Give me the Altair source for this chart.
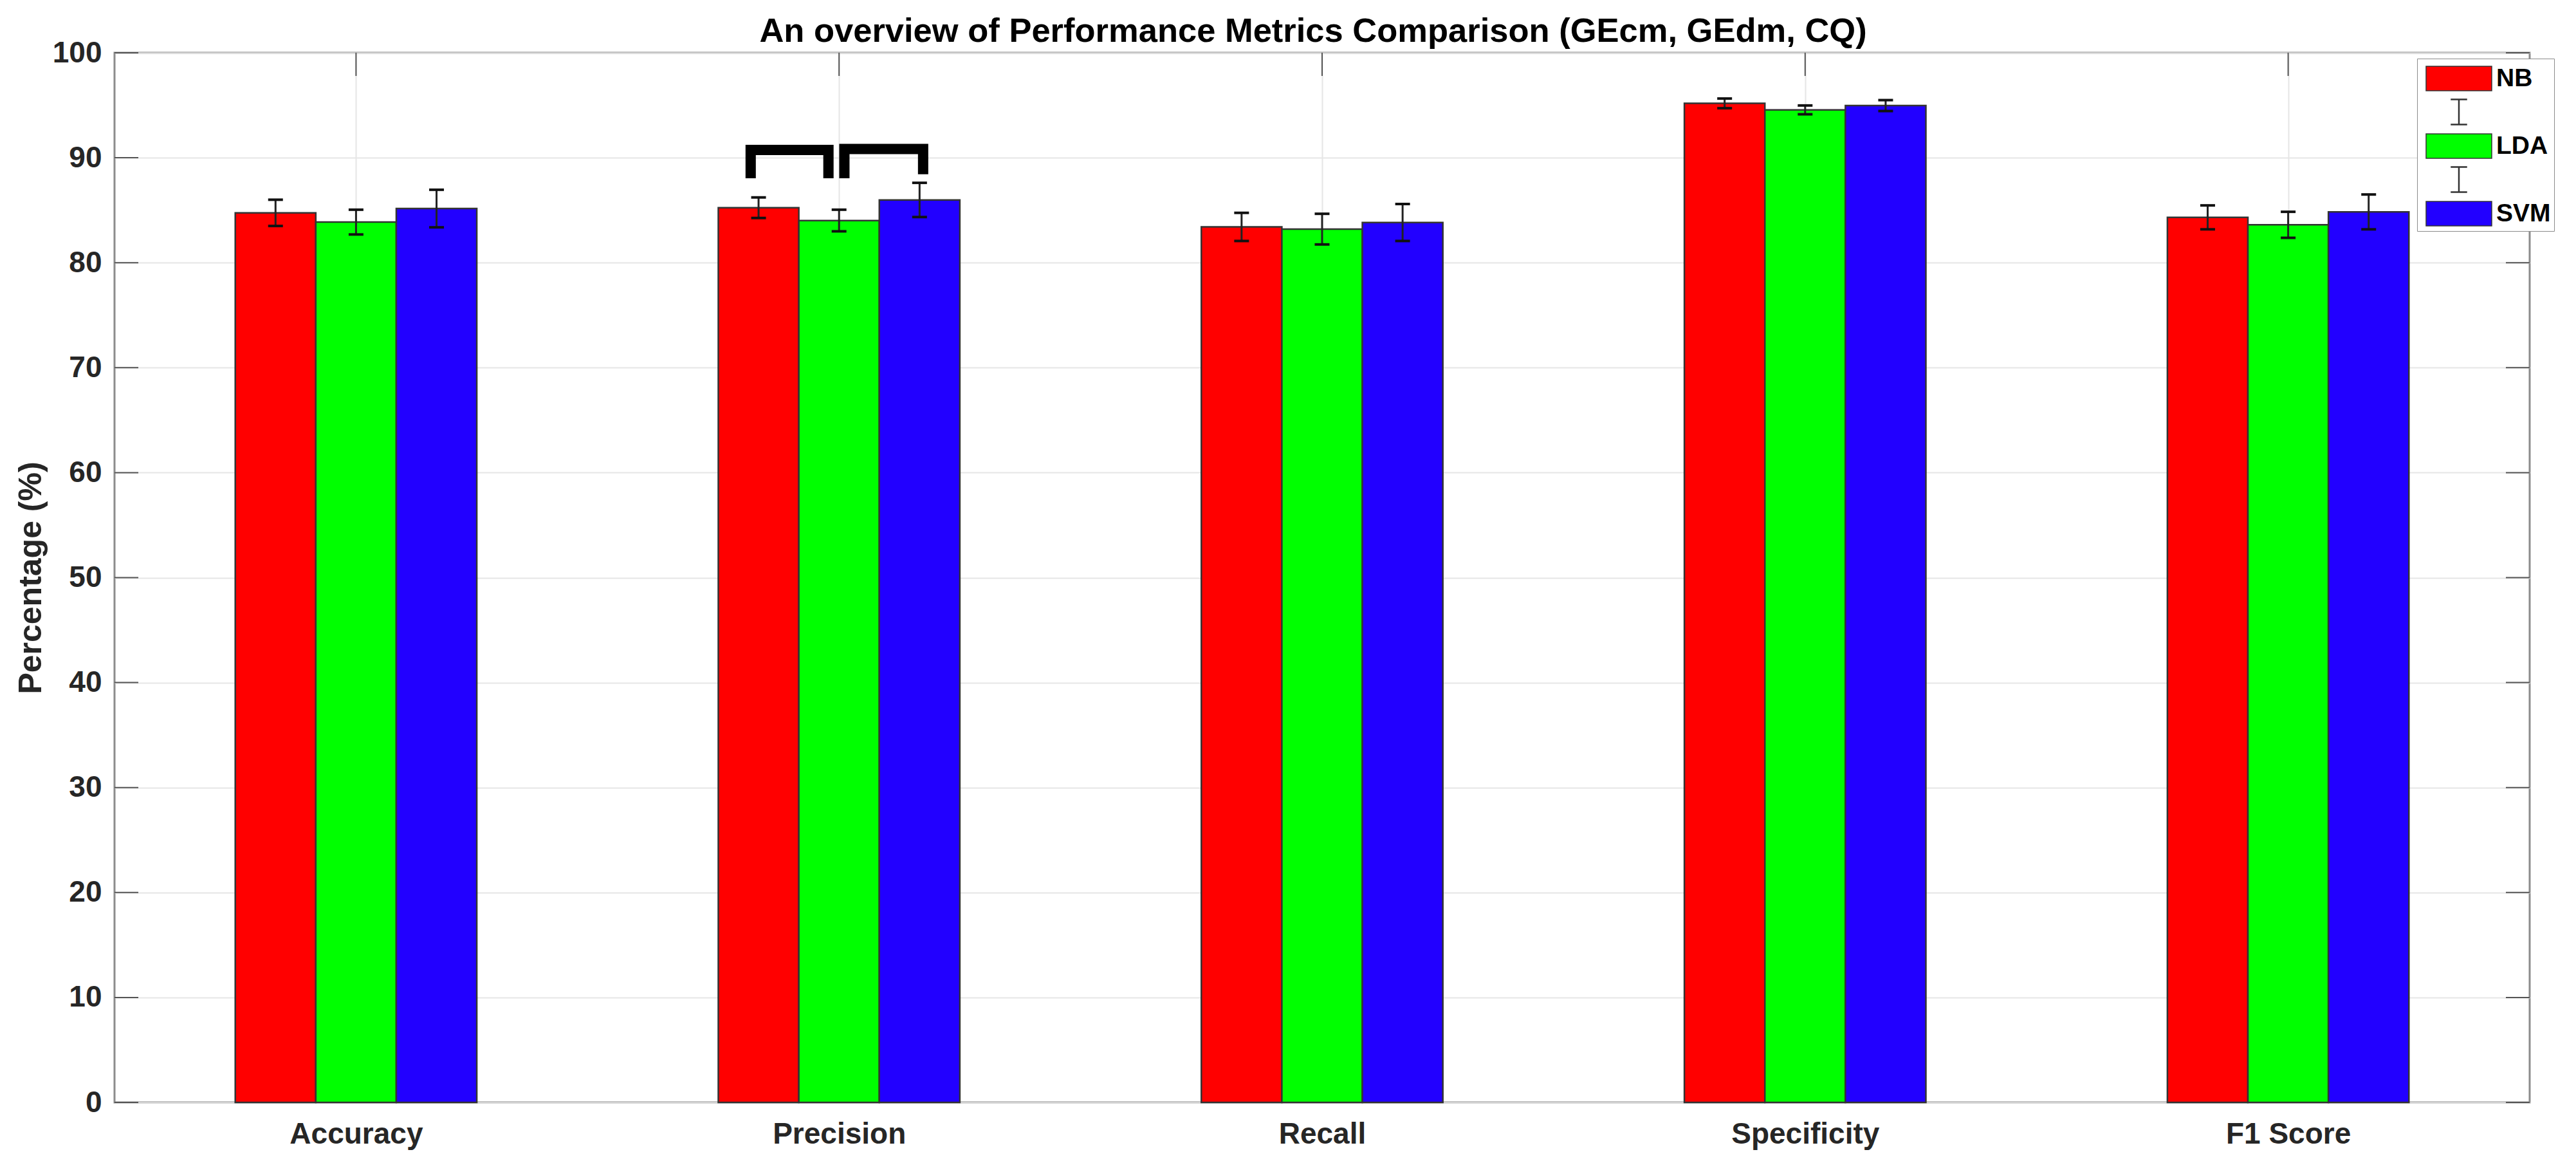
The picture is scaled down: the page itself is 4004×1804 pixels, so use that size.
import json
import pandas as pd
import altair as alt

FONT = "Liberation Sans"

title_text = "An overview of Performance Metrics Comparison (GEcm, GEdm, CQ)"
categories = ["Accuracy", "Precision", "Recall", "Specificity", "F1 Score"]
models = ["NB", "LDA", "SVM"]
colors = ["#ff0000", "#00ff00", "#2200ff"]

nb_values = [84.75, 85.24, 83.41, 95.18, 84.32]
lda_values = [83.87, 84.02, 83.20, 94.56, 83.61]
svm_values = [85.16, 85.98, 83.83, 94.97, 84.84]
nb_err = [1.25, 0.98, 1.34, 0.46, 1.14]
lda_err = [1.18, 1.03, 1.46, 0.42, 1.24]
svm_err = [1.79, 1.63, 1.76, 0.52, 1.66]

y_ticks = list(range(0, 101, 10))

# significance brackets on "Precision" (data units)
bracket_x = [[1.817, 1.817, 1.978, 1.978], [2.011, 2.011, 2.174, 2.174]]
bracket_y = [[88.05, 90.74, 90.74, 88.05], [88.05, 90.83, 90.83, 88.42]]

W, H = 3754, 1631
BAR_W = 1 / 6
rows = []
for k, (m, vals, errs) in enumerate(zip(models, [nb_values, lda_values, svm_values],
                                         [nb_err, lda_err, svm_err])):
    for i, c in enumerate(categories):
        xc = (i + 1) + (k - 1) * BAR_W
        rows.append(dict(metric=c, model=m, value=vals[i], lo=vals[i] - errs[i],
                         hi=vals[i] + errs[i], xc=xc, x1=xc - BAR_W / 2, x2=xc + BAR_W / 2))
df = pd.DataFrame(rows)

br_rows = []
for b, (xs, ys) in enumerate(zip(bracket_x, bracket_y)):
    for p, (xv, yv) in enumerate(zip(xs, ys)):
        br_rows.append(dict(bid=b, pi=p, bx=xv, by=yv))
br_df = pd.DataFrame(br_rows)

ytick_df = pd.DataFrame({"t": y_ticks})
xtick_df = pd.DataFrame({"t": list(range(1, len(categories) + 1))})

label_expr = json.dumps(categories) + "[datum.value - 1]"

x_scale = alt.Scale(domain=[0.5, len(categories) + 0.5], nice=False, zero=False)
y_scale = alt.Scale(domain=[0, 100], nice=False)

x_axis = alt.Axis(values=list(range(1, len(categories) + 1)), labelExpr=label_expr,
                  title=None, grid=True, gridColor="#e6e6e6", gridWidth=2,
                  domain=False, ticks=False, labelFont=FONT, labelFontSize=46,
                  labelFontWeight="bold", labelColor="#262626", labelPadding=27,
                  labelBaseline="top", labelLimit=2000, labelOverlap=False)
y_axis = alt.Axis(values=y_ticks, title="Percentage (%)", grid=True, gridColor="#e6e6e6",
                  gridWidth=2, domain=False, ticks=False, labelFont=FONT, labelFontSize=46,
                  labelFontWeight="bold", labelColor="#262626", labelPadding=20,
                  titleFont=FONT, titleFontSize=50, titleFontWeight="bold",
                  titleColor="#262626", titlePadding=8)


def X(field):
    return alt.X(field, type="quantitative", scale=x_scale, axis=x_axis)


def Y(field):
    return alt.Y(field, type="quantitative", scale=y_scale, axis=y_axis)


# legend: bars and error-bar glyphs
leg_domain = ["NB", "e1", "LDA", "e2", "SVM"]
leg_colors = [colors[0], "#333333", colors[1], "#333333", colors[2]]
rect_path = "M-0.68,-0.76H3.4V0.76H-0.68Z"
i_path = "M0.88,-0.8H1.84V-0.76H1.38V0.76H1.84V0.8H0.88V0.76H1.34V-0.76H0.88Z"
leg_shapes = [rect_path, i_path, rect_path, i_path, rect_path]

legend = alt.Legend(title=None, orient="none", legendX=3579, legendY=9, padding=5,
                    strokeColor="#8c8c8c", fillColor="white", symbolSize=2500,
                    labelFont=FONT, labelFontSize=39, labelFontWeight="bold",
                    labelColor="black", labelOffset=66, rowPadding=4,
                    labelExpr="datum.label == 'e1' || datum.label == 'e2' ? '' : datum.label")

color_scale = alt.Scale(domain=leg_domain, range=leg_colors)

ticks_left = alt.Chart(ytick_df).mark_rule(color="#555555", strokeWidth=2).encode(
    y=Y("t"), x=alt.value(0), x2=alt.value(37))
ticks_right = alt.Chart(ytick_df).mark_rule(color="#555555", strokeWidth=2).encode(
    y=Y("t"), x=alt.value(W - 37), x2=alt.value(W))
ticks_top = alt.Chart(xtick_df).mark_rule(color="#555555", strokeWidth=2).encode(
    x=X("t"), y=alt.value(0), y2=alt.value(36))

points = alt.Chart(df).mark_point(filled=True, size=1, opacity=1, stroke="#333333",
                                  strokeWidth=2).encode(
    x=X("xc"), y=Y("lo"),
    color=alt.Color("model:N", scale=color_scale, legend=legend),
    shape=alt.Shape("model:N", scale=alt.Scale(domain=leg_domain, range=leg_shapes),
                    legend=legend))

bars = alt.Chart(df).mark_rect(stroke="#333333", strokeWidth=2.5).encode(
    x=X("x1"), x2="x2", y=Y("value"), y2=alt.datum(0),
    color=alt.Color("model:N", scale=color_scale, legend=None))

stems = alt.Chart(df).mark_rule(color="#222222", strokeWidth=3).encode(
    x=X("xc"), y=Y("lo"), y2="hi")
caps_lo = alt.Chart(df).mark_tick(orient="horizontal", size=23, thickness=4,
                                  color="#111111", opacity=1).encode(x=X("xc"), y=Y("lo"))
caps_hi = alt.Chart(df).mark_tick(orient="horizontal", size=23, thickness=4,
                                  color="#111111", opacity=1).encode(x=X("xc"), y=Y("hi"))

brackets = alt.Chart(br_df).mark_line(color="black", strokeWidth=16, strokeJoin="miter",
                                      strokeCap="butt").encode(
    x=X("bx"), y=Y("by"), detail="bid:N", order="pi:Q")

title = alt.Chart(pd.DataFrame({"t": [title_text]})).mark_text(
    font=FONT, fontSize=52.5, fontWeight="bold", color="black", align="center",
    baseline="alphabetic").encode(text="t:N", x=alt.value(W / 2 - 14), y=alt.value(-17))

chart = alt.layer(ticks_left, ticks_right, ticks_top, points, bars, stems, caps_lo, caps_hi,
                  brackets, title).properties(
    width=W, height=H,
    autosize=alt.AutoSizeParams(type="none"),
    padding={"left": 170, "top": 74, "right": 64, "bottom": 83},
).configure_view(stroke="#8c8c8c", strokeWidth=3)

chart.save("out.html", embed_options={"renderer": "svg", "actions": False})
